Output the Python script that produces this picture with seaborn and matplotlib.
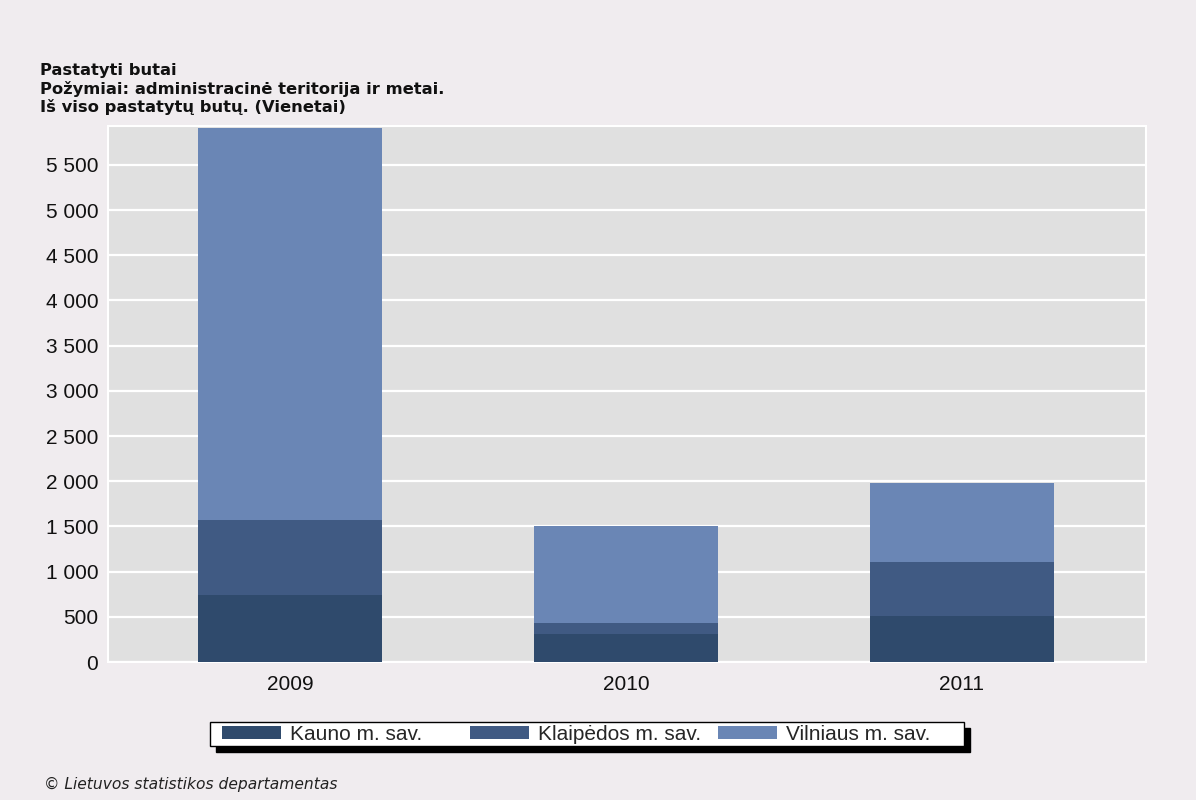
import matplotlib
matplotlib.use("Agg")
import matplotlib.pyplot as plt
from matplotlib import font_manager
from matplotlib.ticker import FuncFormatter, MultipleLocator
from matplotlib.patches import Patch, Rectangle
import pandas as pd
import seaborn as sns

# Built dwellings by municipality (units)
years = ["2009", "2010", "2011"]
kauno = [744, 308, 511]
klaipedos = [825, 128, 592]
vilniaus = [4336, 1066, 874]
series_names = ["Kauno m. sav.", "Klaipėdos m. sav.", "Vilniaus m. sav."]
series_colors = ["#2f4a6c", "#405a83", "#6a86b5"]

title_lines = [
    "Pastatyti butai",
    "Požymiai: administracinė teritorija ir metai.",
    "Iš viso pastatytų butų. (Vienetai)",
]
footer = "© Lietuvos statistikos departamentas"

sns.set_theme(style="white")

# narrow sans for axis and legend text, with a regular-width fallback
installed = {f.name for f in font_manager.fontManager.ttflist}
if "Liberation Sans Narrow" in installed:
    label_family, tick_size, legend_size = "Liberation Sans Narrow", 16, 17
else:
    label_family, tick_size, legend_size = "Liberation Sans", 15, 15
plt.rcParams["font.family"] = [label_family, "DejaVu Sans"]

W, H = 1196, 800
fig = plt.figure(figsize=(W / 100, H / 100), dpi=100, facecolor="#f0ecef")
ax = fig.add_axes([108 / W, 138 / H, 1038 / W, 536 / H])
ax.set_facecolor("#e0e0e0")

df = pd.DataFrame({"year": years, "kauno": kauno,
                   "klaipedos": klaipedos, "vilniaus": vilniaus})
df["cum2"] = df["kauno"] + df["klaipedos"]
df["cum3"] = df["cum2"] + df["vilniaus"]

# stacked bars: draw cumulative totals from tallest to shortest
for col, color in zip(["cum3", "cum2", "kauno"], series_colors[::-1]):
    sns.barplot(data=df, x="year", y=col, color=color, width=0.548,
                saturation=1, ax=ax, zorder=3, linewidth=0,
                edgecolor="none")

ax.set_xlim(-0.542, 2.548)
ax.set_ylim(0, 5930)
ax.yaxis.set_major_locator(MultipleLocator(500))
ax.yaxis.set_major_formatter(FuncFormatter(lambda v, p: f"{int(v):,}".replace(",", " ")))
ax.grid(axis="y", color="white", linewidth=1.6, zorder=0)
ax.set_axisbelow(True)
ax.set_xlabel("")
ax.set_ylabel("")
ax.tick_params(axis="both", length=0, labelsize=tick_size, colors="#111111")
ax.tick_params(axis="y", pad=7)
ax.tick_params(axis="x", pad=9)
for s in ax.spines.values():
    s.set_color("white")
    s.set_linewidth(1.5)

for i, line in enumerate(title_lines):
    fig.text(40 / W, 1 - (75 + i * 18.7) / H, line, fontsize=11.8,
             fontweight="bold", family=["DejaVu Sans"], color="#111111",
             va="baseline", ha="left")

# legend box: white frame with a solid black drop shadow
box_x, box_top, box_w, box_h, shade = 210, 722, 754, 24, 6
fig.add_artist(Rectangle(((box_x + shade) / W, 1 - (box_top + box_h + shade) / H),
                         box_w / W, box_h / H, transform=fig.transFigure,
                         facecolor="black", edgecolor="black", zorder=4))
fig.add_artist(Rectangle((box_x / W, 1 - (box_top + box_h) / H),
                         box_w / W, box_h / H, transform=fig.transFigure,
                         facecolor="white", edgecolor="black", linewidth=1.0,
                         zorder=5))

# equal-width legend columns
col_starts = [222, 470, 718]
for name, color, x0 in zip(series_names, series_colors, col_starts):
    lg = fig.legend([Patch(facecolor=color, edgecolor="none")], [name],
                    loc="center left",
                    bbox_to_anchor=(x0 / W, 1 - (box_top + box_h / 2) / H),
                    fontsize=legend_size, frameon=False,
                    handlelength=2.85, handleheight=0.6, handletextpad=0.4,
                    borderpad=0, borderaxespad=0)
    lg.set_zorder(6)

fig.text(44 / W, 1 - 789 / H, footer, fontsize=11.2, style="italic",
         color="#222222", family=["DejaVu Sans"], ha="left", va="baseline")

fig.savefig("out.png", dpi=100, facecolor=fig.get_facecolor())
